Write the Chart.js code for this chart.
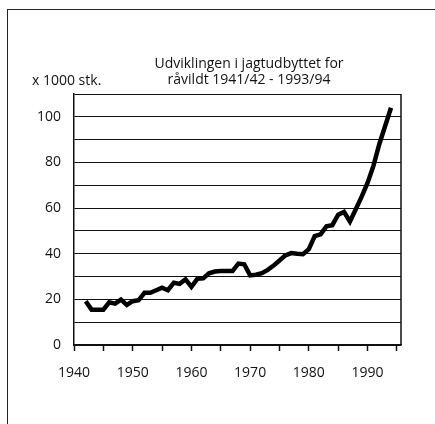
<!DOCTYPE html>
<html>
<head>
<meta charset="utf-8">
<script src="https://cdn.jsdelivr.net/npm/chart.js@4.4.1/dist/chart.umd.min.js"></script>
<style>
    html, body { margin: 0; padding: 0; background: #fff; }
    #wrap { position: relative; width: 435px; height: 424px; overflow: hidden; font-family: "Open Sans", sans-serif; color: #111; }
    #frame { position: absolute; left: 7px; top: 9px; right: -5px; bottom: -5px; border-left: 1px solid #222; border-top: 1px solid #222; }
    canvas { position: absolute; left: 0; top: 0; }
    .txt { position: absolute; font-size: 14px; line-height: 16px; white-space: nowrap; }
    #title { left: 0; width: 498px; top: 55px; text-align: center; }
    #unit { left: 32px; top: 72px; }
</style>
</head>
<body>
<div id="wrap">
    <div id="frame"></div>
    <canvas id="chart" width="435" height="424"></canvas>
    <div class="txt" id="title">Udviklingen i jagtudbyttet for<br>råvildt 1941/42 - 1993/94</div>
    <div class="txt" id="unit">x 1000 stk.</div>
</div>
<script>
// Jagtsæsoner 1941/42 - 1993/94, afsat ved sæsonens slutår
const seasons = [];
for (let y = 1941; y <= 1993; y++) {
    seasons.push(y + '/' + String(y + 1).slice(2));
}
const years = seasons.map(s => parseInt(s, 10) + 1);

// Udbytte af råvildt, x 1000 stk.
const harvest = [
    19.2, 15.5, 15.5, 15.5, 18.7, 18.1, 19.9, 17.6, 19.2, 19.6,
    22.9, 22.9, 24.0, 25.1, 24.0, 27.3, 26.8, 28.8, 25.5, 29.0,
    29.2, 31.4, 32.2, 32.4, 32.4, 32.4, 35.7, 35.4, 30.5, 30.8,
    31.5, 32.9, 34.8, 37.0, 39.3, 40.3, 40.0, 39.8, 42.0, 47.7,
    48.5, 52.0, 52.5, 57.1, 58.3, 54.1, 59.5, 65.0, 71.0, 78.5,
    88.0, 96.0, 104.0
];

const xLabels = [1940, 1950, 1960, 1970, 1980, 1990];
const yLabels = [0, 20, 40, 60, 80, 100];

// ramme om plotområdet (højre kant)
const boxPlugin = {
    id: 'box',
    afterDraw(chart) {
        const a = chart.chartArea;
        const ctx = chart.ctx;
        ctx.save();
        ctx.strokeStyle = '#111';
        ctx.lineWidth = 1.5;
        ctx.beginPath();
        ctx.moveTo(a.right, a.top);
        ctx.lineTo(a.right, a.bottom);
        ctx.stroke();
        ctx.restore();
    }
};

new Chart(document.getElementById('chart'), {
    type: 'line',
    data: {
        datasets: [{
            label: 'Råvildt',
            data: years.map((y, i) => ({ x: y, y: harvest[i] })),
            borderColor: '#000',
            borderWidth: 4.5,
            pointRadius: 0,
            tension: 0,
            fill: false
        }]
    },
    options: {
        responsive: false,
        animation: false,
        layout: { padding: { left: 0, top: 94, right: 34, bottom: 39 } },
        plugins: { legend: { display: false }, tooltip: { enabled: false } },
        scales: {
            x: {
                type: 'linear',
                min: 1940,
                max: 1995.7,
                afterFit: s => { s.height = 40; },
                grid: { drawOnChartArea: false, drawTicks: true, tickLength: 6, tickColor: '#111', tickWidth: 1.5 },
                border: { color: '#111', width: 1.5 },
                ticks: {
                    stepSize: 5,
                    includeBounds: false,
                    autoSkip: false,
                    maxRotation: 0,
                    padding: 14,
                    color: '#111',
                    font: { family: 'Open Sans', size: 14 },
                    callback: v => xLabels.includes(v) ? String(v) : ''
                }
            },
            y: {
                min: 0,
                max: 110,
                afterFit: s => { s.width = 74; },
                grid: { color: '#111', lineWidth: 1, drawTicks: false },
                border: { color: '#111', width: 1.5 },
                ticks: {
                    stepSize: 10,
                    padding: 13,
                    color: '#111',
                    font: { family: 'Open Sans', size: 14 },
                    callback: v => yLabels.includes(v) ? String(v) : ''
                }
            }
        }
    },
    plugins: [boxPlugin]
});
</script>
</body>
</html>
